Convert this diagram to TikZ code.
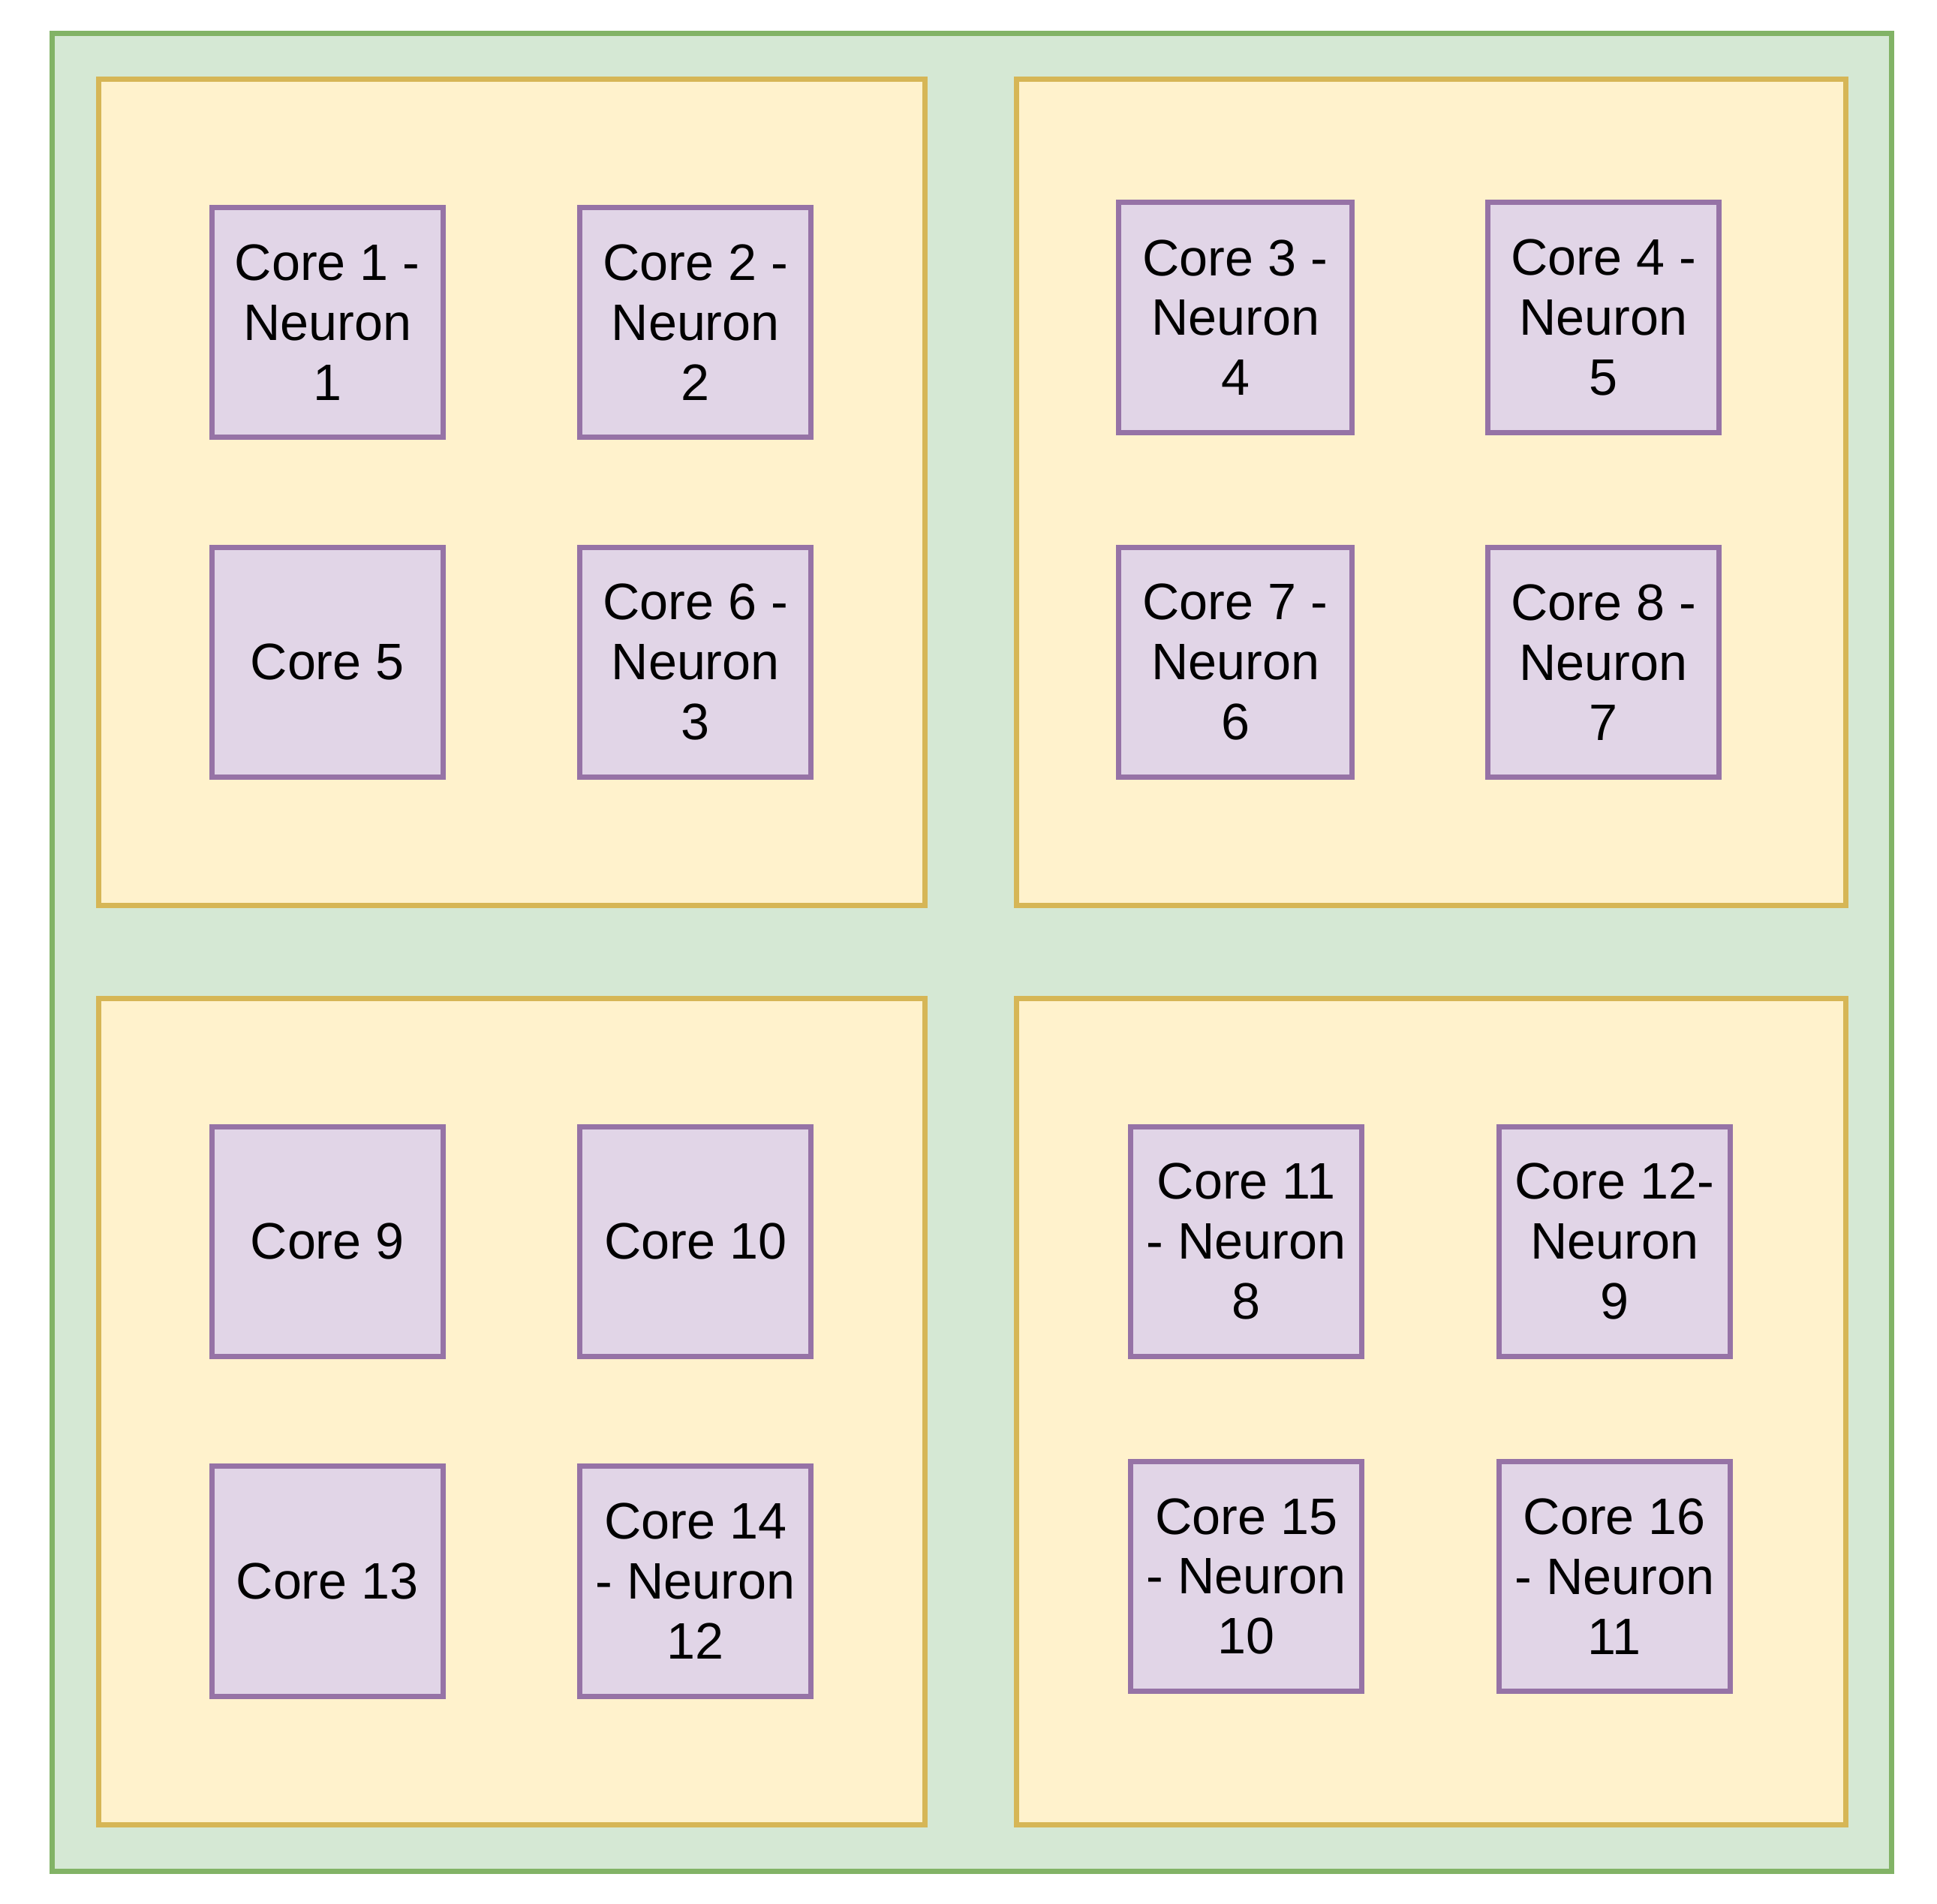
\documentclass[tikz,border=0pt]{standalone}
\usepackage{fontspec}
\setmainfont{Liberation Sans}
\definecolor{gfill}{HTML}{D5E8D4}\definecolor{gdraw}{HTML}{82B366}
\definecolor{yfill}{HTML}{FFF2CC}\definecolor{ydraw}{HTML}{D6B656}
\definecolor{pfill}{HTML}{E1D5E7}\definecolor{pdraw}{HTML}{9673A6}
\begin{document}
\begin{tikzpicture}[x=0.01cm,y=-0.01cm,
 outer/.style={draw=gdraw,fill=gfill,line width=1.2pt},
 chip/.style={draw=ydraw,fill=yfill,line width=1.2pt},
 core/.style={draw=pdraw,fill=pfill,line width=1.2pt,minimum width=1.87cm,minimum height=1.86cm,inner sep=0pt,align=center,font=\fontsize{11.8}{13.8}\selectfont}]
\useasboundingbox (0,0) rectangle (1568,1541);
\draw[outer] (42,27) rectangle (1531,1515);
\draw[chip] (80,64) rectangle (749,733);
\draw[chip] (823,64) rectangle (1494,733);
\draw[chip] (80,808) rectangle (749,1477);
\draw[chip] (823,808) rectangle (1494,1477);
\node[core] (c1) at (265,261) {Core 1 -\\Neuron\\1};
\node[core] (c2) at (563,261) {Core 2 -\\Neuron\\2};
\node[core] (c5) at (265,536) {Core 5};
\node[core] (c6) at (563,536) {Core 6 -\\Neuron\\3};
\node[core,minimum width=1.89cm] (c3) at (1000,257) {Core 3 -\\Neuron\\4};
\node[core] (c4) at (1298,257) {Core 4 -\\Neuron\\5};
\node[core,minimum width=1.89cm] (c7) at (1000,536) {Core 7 -\\Neuron\\6};
\node[core] (c8) at (1298,536) {Core 8 -\\Neuron\\7};
\node[core] (c9) at (265,1005) {Core 9};
\node[core] (c10) at (563,1005) {Core 10};
\node[core] (c13) at (265,1280) {Core 13};
\node[core] (c14) at (563,1280) {Core 14\\- Neuron\\12};
\node[core] (c11) at (1009,1005) {Core 11\\- Neuron\\8};
\node[core] (c12) at (1307,1005) {Core 12-\\Neuron\\9};
\node[core] (c15) at (1009,1276) {Core 15\\- Neuron\\10};
\node[core] (c16) at (1307,1276) {Core 16\\- Neuron\\11};
\end{tikzpicture}
\end{document}
